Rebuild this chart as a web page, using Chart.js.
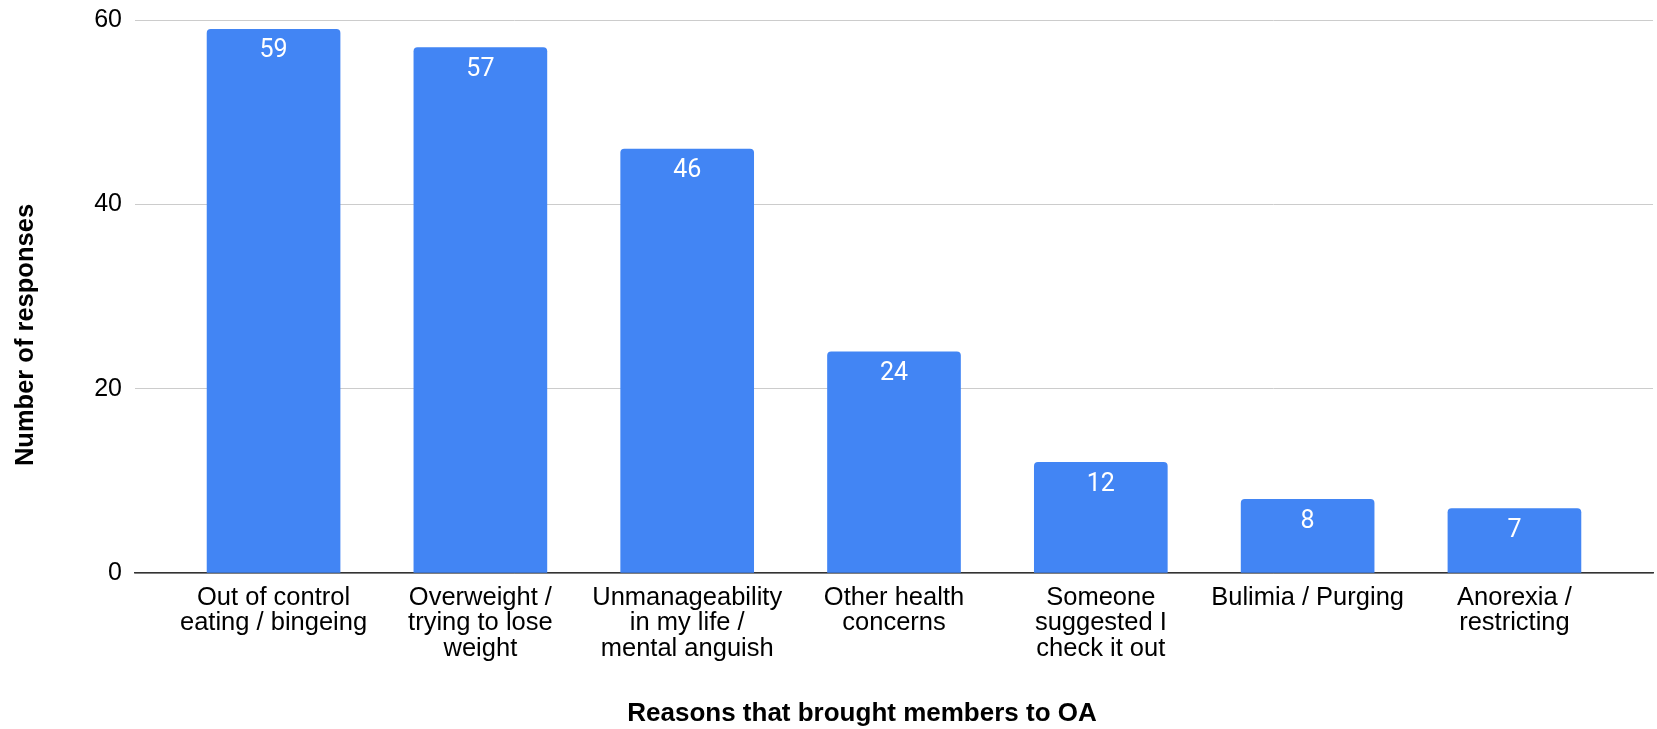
<!DOCTYPE html>
<html>
<head>
<meta charset="utf-8">
<script src="https://cdn.jsdelivr.net/npm/chart.js@4.4.1/dist/chart.umd.min.js"></script>
<style>
  html, body { margin: 0; padding: 0; background: #fff; }
  #wrap { width: 1657px; height: 729px; }
</style>
</head>
<body>
<div id="wrap"><canvas id="chart" width="1657" height="729"></canvas></div>
<script>
// Categories (multi-line tick labels) and response counts
const reasons = [
  ["Out of control", "eating / bingeing"],
  ["Overweight /", "trying to lose", "weight"],
  ["Unmanageability", "in my life /", "mental anguish"],
  ["Other health", "concerns"],
  ["Someone", "suggested I", "check it out"],
  ["Bulimia / Purging"],
  ["Anorexia /", "restricting"]
];
const responses = [59, 57, 46, 24, 12, 8, 7];
const yTicks = [0, 20, 40, 60];

const yTitle = "Number of responses";
const xTitle = "Reasons that brought members to OA";

// ---------------------
// Plugins
// ---------------------

// white count printed just inside the top of each bar
const barValues = {
  id: "barValues",
  afterDatasetsDraw(chart) {
    const ctx = chart.ctx;
    const meta = chart.getDatasetMeta(0);
    ctx.save();
    ctx.fillStyle = "#ffffff";
    ctx.font = "25px Roboto, 'Liberation Sans', Arial, sans-serif";
    ctx.textAlign = "center";
    ctx.textBaseline = "middle";
    meta.data.forEach((bar, i) => {
      ctx.fillText(String(responses[i]), bar.x, bar.y + 22);
    });
    ctx.restore();
  }
};

// axis titles
const axisTitles = {
  id: "axisTitles",
  afterDraw(chart) {
    const ctx = chart.ctx;
    ctx.save();
    ctx.fillStyle = "#000000";
    ctx.textAlign = "center";
    ctx.textBaseline = "middle";
    ctx.font = "bold 26px 'Liberation Sans', Arial, sans-serif";
    ctx.fillText(xTitle, 862, 714);
    ctx.font = "bold 25.5px 'Liberation Sans', Arial, sans-serif";
    ctx.translate(26, 335);
    ctx.rotate(-Math.PI / 2);
    ctx.fillText(yTitle, 0, 0);
    ctx.restore();
  }
};

// ---------------------
// Chart
// ---------------------

new Chart(document.getElementById("chart"), {
  type: "bar",
  data: {
    datasets: [{
      data: responses.map((v, i) => ({ x: i, y: v })),
      backgroundColor: "#4285F4",
      borderWidth: 0,
      borderRadius: 4,
      barThickness: 133
    }]
  },
  options: {
    responsive: false,
    animation: false,
    devicePixelRatio: 1,
    layout: { padding: { left: 0, right: 4, top: 20, bottom: 0 } },
    plugins: {
      legend: { display: false },
      tooltip: { enabled: false }
    },
    scales: {
      x: {
        type: "linear",
        offset: false,
        min: -0.67,
        max: 6.67,
        afterBuildTicks: s => { s.ticks = reasons.map((r, i) => ({ value: i })); },
        afterFit: s => { s.height = 156; },
        grid: { display: false, drawTicks: false },
        border: { display: true, color: "#333333", width: 1.5 },
        ticks: {
          autoSkip: false,
          maxRotation: 0,
          padding: 12,
          color: "#000000",
          font: { family: "'Liberation Sans', Arial, sans-serif", size: 25.5, lineHeight: 1.0 },
          callback: v => reasons[v]
        }
      },
      y: {
        min: 0,
        max: 60,
        afterBuildTicks: s => { s.ticks = yTicks.map(v => ({ value: v })); },
        afterFit: s => { s.width = 135; s.paddingTop = 0; s.paddingBottom = 0; },
        grid: { color: "#cccccc", lineWidth: 1, drawTicks: false },
        border: { display: false },
        ticks: {
          padding: 13,
          color: "#000000",
          font: { family: "'Liberation Sans', Arial, sans-serif", size: 25 }
        }
      }
    }
  },
  plugins: [barValues, axisTitles]
});
</script>
</body>
</html>
